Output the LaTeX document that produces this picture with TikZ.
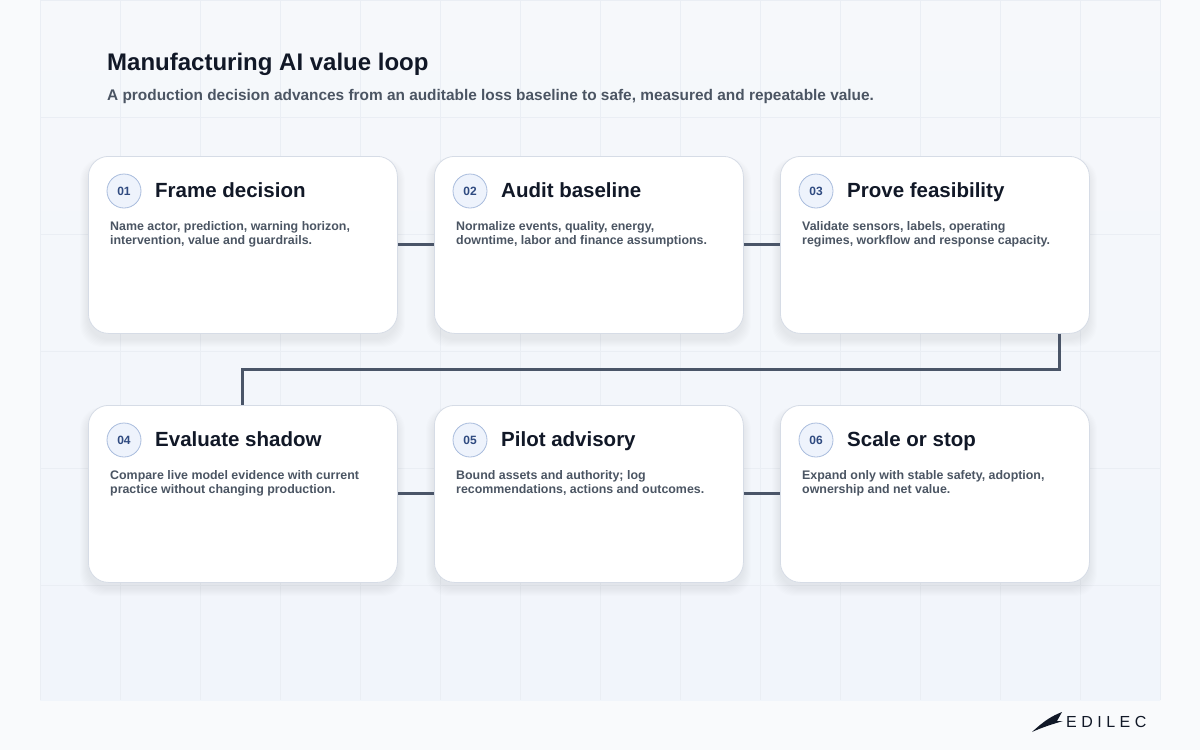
\documentclass[tikz,border=0pt]{standalone}
\usepackage{fontspec}
\setmainfont{Liberation Sans}
\usetikzlibrary{calc}
\definecolor{bg}{HTML}{F9FAFC}
\definecolor{panel}{HTML}{F1F5FB}
\definecolor{panelb}{HTML}{F6F8FB}
\definecolor{gridc}{HTML}{EAEEF4}
\definecolor{cardb}{HTML}{D6DCE6}
\definecolor{ink}{HTML}{111827}
\definecolor{body}{HTML}{4B5563}
\definecolor{conn}{HTML}{4A5568}
\definecolor{badgef}{HTML}{EEF3FC}
\definecolor{badgeb}{HTML}{A9BCDD}
\definecolor{badget}{HTML}{2F4A80}
\begin{document}
\begin{tikzpicture}[x=1pt,y=-1pt,
 card/.style={draw=cardb,line width=0.8pt,fill=white,rounded corners=20pt},
 badge/.style={circle,draw=badgeb,line width=0.8pt,fill=badgef,minimum size=34pt,inner sep=0pt,font=\fontsize{12}{13}\selectfont\bfseries,text=badget},
 ttl/.style={anchor=west,font=\fontsize{20.5}{24}\selectfont\bfseries,text=ink,inner sep=0pt},
 bdy/.style={anchor=north west,align=left,font=\fontsize{12.4}{14.5}\selectfont\bfseries,text=body,inner sep=0pt},
 link/.style={draw=conn,line width=3pt}]
\useasboundingbox (0,0) rectangle (1200,750);
\fill[bg] (0,0) rectangle (1200,750);
\shade[top color=panelb,bottom color=panel] (40,0) rectangle (1160,700);
\foreach \x in {40,120,...,1160} \draw[gridc,line width=0.5pt] (\x,0)--(\x,700);
\foreach \y in {0,117,...,700} \draw[gridc,line width=0.5pt] (40,\y)--(1160,\y);
\node[anchor=west,inner sep=0pt,font=\fontsize{24}{28}\selectfont\bfseries,text=ink] (t) at (107,64) {Manufacturing AI value loop};
\node[anchor=west,inner sep=0pt,font=\fontsize{15.4}{17}\selectfont\bfseries,text=body] (s) at (107,97) {A production decision advances from an auditable loss baseline to safe, measured and repeatable value.};
\coordinate (j1) at (1059,369); \coordinate (j2) at (242,369);
\foreach \i/\x/\y/\n/\T/\B in {
1/88/156/01/Frame decision/{Name actor, prediction, warning horizon,\\intervention, value and guardrails.},
2/434/156/02/Audit baseline/{Normalize events, quality, energy,\\downtime, labor and finance assumptions.},
3/780/156/03/Prove feasibility/{Validate sensors, labels, operating\\regimes, workflow and response capacity.},
4/88/405/04/Evaluate shadow/{Compare live model evidence with current\\practice without changing production.},
5/434/405/05/Pilot advisory/{Bound assets and authority; log\\recommendations, actions and outcomes.},
6/780/405/06/Scale or stop/{Expand only with stable safety, adoption,\\ownership and net value.}}{
 \foreach \k in {1,...,8} \fill[black!60!blue,opacity=0.006,rounded corners=22pt] (\x-\k,\y+6-\k*0.5) rectangle (\x+309+\k,\y+177+6+\k);
 \node[card,anchor=north west,minimum width=309pt,minimum height=177pt] (c\i) at (\x,\y) {};
 \node[badge] (b\i) at (\x+36,\y+35) {\n};
 \node[ttl] (h\i) at (\x+67,\y+36) {\vphantom{Ag}\T};
 \node[bdy] (d\i) at (\x+22,\y+65) {\B};
}
\draw[link] (c1.east |- 0,244) -- (c2.west |- 0,244);
\draw[link] (c2.east |- 0,244) -- (c3.west |- 0,244);
\draw[link] (c4.east |- 0,493) -- (c5.west |- 0,493);
\draw[link] (c5.east |- 0,493) -- (c6.west |- 0,493);
\draw[link,line join=miter] (c3.south -| j1) -- (j1) -- (j2) -- (c4.north -| j2);
% logo
\fill[ink] (1032,732) .. controls (1045,720) and (1052,716) .. (1062,712) -- (1057,721) -- (1063,721) .. controls (1053,724) and (1043,727) .. (1032,732) -- cycle;
\node[anchor=west,inner sep=0pt,font=\fontsize{16}{18}\selectfont\addfontfeature{LetterSpace=28},text=ink] (logo) at (1066,722) {EDILEC};
\end{tikzpicture}
\end{document}
